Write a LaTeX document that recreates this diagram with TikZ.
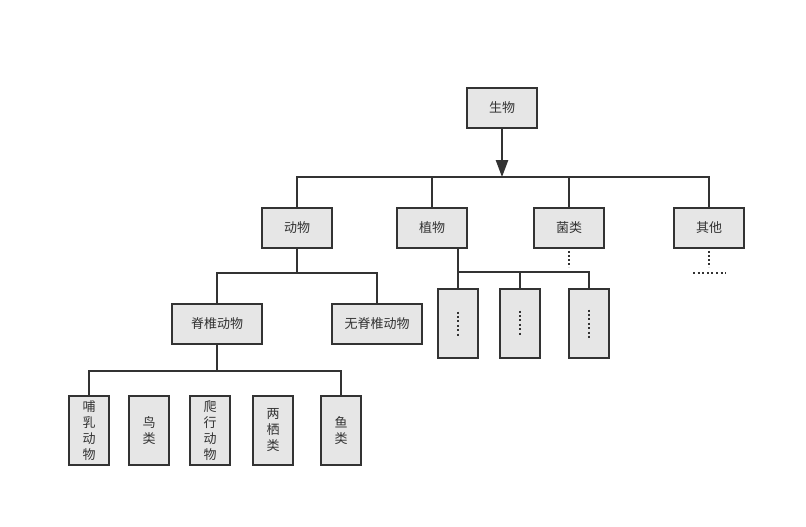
\documentclass[tikz,border=0pt]{standalone}
\usepackage{fontspec}
\setmainfont{Noto Sans CJK SC}
\usetikzlibrary{arrows.meta}
\definecolor{edge}{HTML}{333333}
\definecolor{boxfill}{HTML}{E6E6E6}
\begin{document}
\begin{tikzpicture}[x=1pt,y=-1pt,
  box/.style={draw=edge,fill=boxfill,line width=1.7pt,inner sep=0pt,
    minimum width=70pt,minimum height=40pt,text=edge,
    font=\fontsize{13}{16}\selectfont},
  wbox/.style={box,minimum width=90pt},
  tbox/.style={box,minimum width=40pt,minimum height=69pt,align=center},
  conn/.style={draw=edge,line width=1.7pt},
  dots/.style={draw=edge,line width=2pt,dash pattern=on 2pt off 2pt}]
\useasboundingbox (0,0) rectangle (806,527);
% level 0
\node[box] (sw) at (502,108) {生物};
% level 1
\node[box] (dw) at (297,228) {动物};
\node[box] (zw) at (432,228) {植物};
\node[box] (jl) at (569,228) {菌类};
\node[box] (qt) at (709,228) {其他};
% level 2
\node[wbox] (jz) at (217,324) {脊椎动物};
\node[wbox] (wj) at (377,324) {无脊椎动物};
\node[tbox] (p1) at (458,323.5) {};
\node[tbox] (p2) at (520,323.5) {};
\node[tbox] (p3) at (589,323.5) {};
% level 3
\node[tbox] (a1) at (89,430.5) {哺\\乳\\动\\物};
\node[tbox] (a2) at (149,430.5) {鸟\\类};
\node[tbox] (a3) at (210,430.5) {爬\\行\\动\\物};
\node[tbox] (a4) at (273,430.5) {两\\栖\\类};
\node[tbox] (a5) at (341,430.5) {鱼\\类};
% connectors level 0-1
\draw[conn] (dw.north) -- ++(0,-30) coordinate (b0) -| (qt.north);
\draw[conn] (zw.north) -- (zw.north |- b0);
\draw[conn] (jl.north) -- (jl.north |- b0);
\draw[conn,line width=2.2pt,-{Triangle[length=17pt,width=12pt]}] (sw.south) -- (sw.south |- b0);
% animals
\draw[conn] (jz.north) -- ++(0,-30) coordinate (b1) -| (wj.north);
\draw[conn] (dw.south) -- (dw.south |- b1);
% plants
\draw[conn] (p1.north) -- ++(0,-16) coordinate (b2) -| (p3.north);
\draw[conn] (p2.north) -- (p2.north |- b2);
\draw[conn] (p1.north |- zw.south) -- (b2);
% vertebrates
\draw[conn] (a1.north) -- ++(0,-24) coordinate (b3) -| (a5.north);
\draw[conn] (jz.south) -- (jz.south |- b3);
% dotted continuations
\draw[dots] (jl.south) ++(0,2) -- ++(0,16);
\draw[dots] (qt.south) ++(0,2) -- ++(0,16);
\draw[dots,dash pattern=on 2pt off 2.6pt] (693,273) -- (726,273);
\draw[dots,dash pattern=on 2pt off 2.4pt] (p1.center) ++(0,-12) -- ++(0,24);
\draw[dots,dash pattern=on 2pt off 2.4pt] (p2.center) ++(0,-13) -- ++(0,24);
\draw[dots,dash pattern=on 2pt off 2.4pt] (p3.center) ++(0,-14) -- ++(0,28);
\end{tikzpicture}
\end{document}
